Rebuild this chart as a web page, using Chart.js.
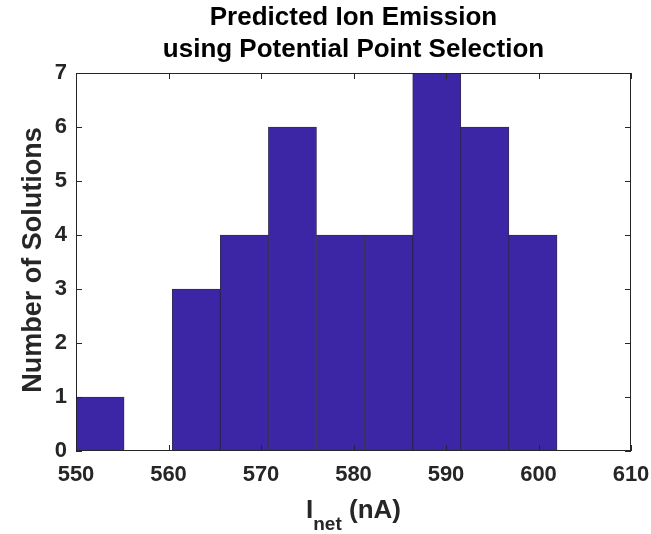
<!DOCTYPE html>
<html>
<head>
<meta charset="utf-8">
<script src="https://cdn.jsdelivr.net/npm/chart.js@4/dist/chart.umd.min.js"></script>
<style>
html,body{margin:0;padding:0;background:#fff;}
#wrap{width:651px;height:534px;}
</style>
</head>
<body>
<div id="wrap"><canvas id="c" width="651" height="534"></canvas></div>
<script>
// Histogram bin edges (nA) and counts
const binEdges = [550, 555.2, 560.4, 565.6, 570.8, 576, 581.2, 586.4, 591.6, 596.8, 602];
const counts = [1, 0, 3, 4, 6, 4, 4, 7, 6, 4];
const xTicks = [550, 560, 570, 580, 590, 600, 610];
const yTicks = [0, 1, 2, 3, 4, 5, 6, 7];
const titleLines = ['Predicted Ion Emission', 'using Potential Point Selection'];
const yLabel = 'Number of Solutions';

const data = counts.map((c, i) => ({ x: (binEdges[i] + binEdges[i + 1]) / 2, y: c }));
const FONT = '"Liberation Sans", Arial, Helvetica, sans-serif';
const INK = '#262626';

const decor = {
  id: 'decor',
  afterDraw(chart) {
    const ctx = chart.ctx;
    const a = chart.chartArea;
    const xs = chart.scales.x, ys = chart.scales.y;
    ctx.save();
    // box
    ctx.strokeStyle = INK;
    ctx.lineWidth = 1;
    ctx.strokeRect(Math.round(a.left) + 0.5, Math.round(a.top) + 0.5,
      Math.round(a.right - a.left) - 1, Math.round(a.bottom - a.top) - 1);
    // inward ticks
    const tl = 6;
    ctx.beginPath();
    xTicks.forEach(v => {
      const px = Math.round(xs.getPixelForValue(v)) + 0.5;
      ctx.moveTo(px, a.bottom); ctx.lineTo(px, a.bottom - tl);
      ctx.moveTo(px, a.top); ctx.lineTo(px, a.top + tl);
    });
    yTicks.forEach(v => {
      const py = Math.round(ys.getPixelForValue(v)) + 0.5;
      ctx.moveTo(a.left, py); ctx.lineTo(a.left + tl, py);
      ctx.moveTo(a.right, py); ctx.lineTo(a.right - tl, py);
    });
    ctx.stroke();
    // title
    ctx.fillStyle = '#000';
    ctx.textAlign = 'center';
    ctx.textBaseline = 'middle';
    ctx.font = 'bold 26px ' + FONT;
    const cx = (a.left + a.right) / 2;
    ctx.fillText(titleLines[0], cx, 18);
    ctx.fillText(titleLines[1], cx, 50);
    // y label
    ctx.fillStyle = INK;
    ctx.save();
    ctx.translate(34, 260);
    ctx.rotate(-Math.PI / 2);
    ctx.font = 'bold 27px ' + FONT;
    ctx.fillText(yLabel, 0, 0);
    ctx.restore();
    // x label with subscript
    ctx.textAlign = 'left';
    ctx.textBaseline = 'alphabetic';
    const big = 'bold 26px ' + FONT, small = 'bold 19px ' + FONT;
    ctx.font = big; const wI = ctx.measureText('I').width;
    ctx.font = small; const wN = ctx.measureText('net').width;
    ctx.font = big; const wR = ctx.measureText(' (nA)').width;
    let x0 = cx - (wI + wN + wR) / 2;
    const base = 518;
    ctx.font = big; ctx.fillText('I', x0, base); x0 += wI;
    ctx.font = small; ctx.fillText('net', x0, base + 12); x0 += wN;
    ctx.font = big; ctx.fillText(' (nA)', x0, base);
    ctx.restore();
  }
};

new Chart(document.getElementById('c'), {
  type: 'bar',
  data: {
    datasets: [{
      data: data,
      backgroundColor: 'rgb(60,38,165)',
      borderColor: 'rgba(30,20,70,0.9)',
      borderWidth: 1,
      borderSkipped: false,
      barPercentage: 1,
      categoryPercentage: 1
    }]
  },
  options: {
    responsive: false,
    animation: false,
    events: [],
    layout: { padding: { left: 0, right: 20, top: 73, bottom: 0 } },
    plugins: { legend: { display: false }, tooltip: { enabled: false }, title: { display: false } },
    scales: {
      x: {
        type: 'linear',
        min: 550, max: 610,
        offset: false,
        grid: { display: false, drawTicks: false },
        border: { display: false },
        afterBuildTicks: s => { s.ticks = xTicks.map(v => ({ value: v })); },
        afterFit: s => { s.height = 83; s.paddingLeft = 0; s.paddingRight = 0; },
        ticks: { color: INK, padding: 11, maxRotation: 0, font: { family: FONT, size: 22, weight: 'bold' } }
      },
      y: {
        min: 0, max: 7,
        grid: { display: false, drawTicks: false },
        border: { display: false },
        afterBuildTicks: s => { s.ticks = yTicks.map(v => ({ value: v })); },
        afterFit: s => { s.width = 76; s.paddingTop = 0; s.paddingBottom = 0; },
        ticks: { color: INK, padding: 9, font: { family: FONT, size: 22, weight: 'bold' } }
      }
    }
  },
  plugins: [decor]
});
</script>
</body>
</html>
